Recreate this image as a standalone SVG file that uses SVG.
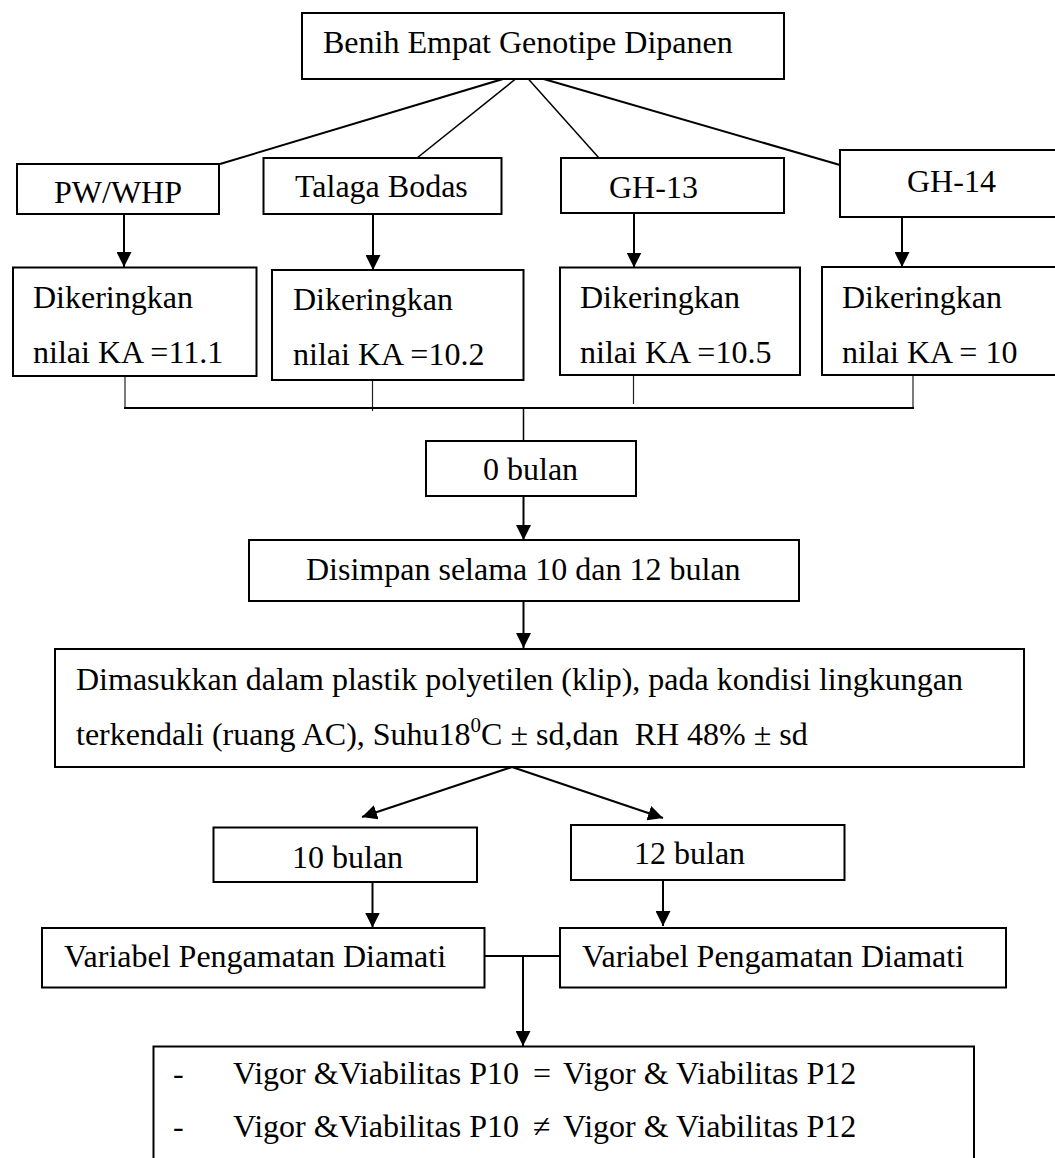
<svg xmlns="http://www.w3.org/2000/svg" width="1055" height="1158" viewBox="0 0 1055 1158">
<style>
  .box { fill: #fff; stroke: #000; stroke-width: 2; }
  .t { font-family: "Liberation Serif", "Times New Roman", serif; font-size: 32px; fill: #000; }
  .ln { fill: none; stroke: #000; stroke-width: 2; }
  .thin { fill: none; stroke: #000; stroke-width: 1.5; }
  .hair { fill: none; stroke: #222; stroke-width: 1.2; }
  .arr { fill: none; stroke: #000; stroke-width: 2; marker-end: url(#ah); }
</style>
<defs>
  <marker id="ah" markerUnits="userSpaceOnUse" markerWidth="15" markerHeight="15" refX="15" refY="7.5" orient="auto">
    <path d="M0,0 L15,7.5 L0,15 z" fill="#000"/>
  </marker>
</defs>
<rect width="1055" height="1158" fill="#fff"/>

<g id="connectors">
  <line class="ln" x1="523" y1="73" x2="220" y2="164"/>
  <line class="thin" x1="523" y1="73" x2="417" y2="158"/>
  <line class="thin" x1="523" y1="73" x2="599" y2="158"/>
  <line class="ln" x1="523" y1="73" x2="840" y2="165"/>
  <line class="arr" x1="124" y1="214" x2="124" y2="267"/>
  <line class="arr" x1="373" y1="214" x2="373" y2="270"/>
  <line class="arr" x1="634" y1="213" x2="634" y2="267.5"/>
  <line class="arr" x1="902" y1="217" x2="902" y2="267"/>
  <line class="hair" x1="125" y1="376" x2="125" y2="408"/>
  <line class="hair" x1="372.5" y1="380" x2="372.5" y2="411"/>
  <line class="hair" x1="633.5" y1="375" x2="633.5" y2="404"/>
  <line class="hair" x1="913" y1="369" x2="913" y2="408"/>
  <line class="ln" x1="124" y1="408" x2="914" y2="408"/>
  <line class="thin" x1="523.5" y1="408" x2="523.5" y2="441"/>
  <line class="arr" x1="523.5" y1="496" x2="523.5" y2="540"/>
  <line class="arr" x1="523.5" y1="601" x2="523.5" y2="648"/>
  <line class="arr" x1="512" y1="767" x2="362" y2="817"/>
  <line class="arr" x1="512" y1="767" x2="663" y2="818"/>
  <line class="arr" x1="372.5" y1="882" x2="372.5" y2="927.5"/>
  <line class="arr" x1="663" y1="880" x2="663" y2="926"/>
  <line class="ln" x1="484.5" y1="956" x2="560" y2="956"/>
  <line class="arr" x1="523" y1="956" x2="523" y2="1046"/>
</g>

<g id="n-top">
  <rect class="box" x="302" y="13" width="482" height="66"/>
  <text class="t" x="323" y="53">Benih Empat Genotipe Dipanen</text>
</g>
<g id="n-pw">
  <rect class="box" x="17" y="164" width="202" height="50"/>
  <text class="t" x="54" y="203">PW/WHP</text>
</g>
<g id="n-talaga">
  <rect class="box" x="263.5" y="158" width="238" height="56"/>
  <text class="t" x="295" y="197">Talaga Bodas</text>
</g>
<g id="n-gh13">
  <rect class="box" x="561" y="158" width="223" height="55"/>
  <text class="t" x="609" y="198">GH-13</text>
</g>
<g id="n-gh14">
  <rect class="box" x="840" y="150" width="220" height="67"/>
  <text class="t" x="907" y="192">GH-14</text>
</g>
<g id="n-d1">
  <rect class="box" x="13" y="267.5" width="243.5" height="108.5"/>
  <text class="t" x="33" y="308">Dikeringkan</text>
  <text class="t" x="33" y="363">nilai KA =11.1</text>
</g>
<g id="n-d2">
  <rect class="box" x="272" y="270" width="251.5" height="110"/>
  <text class="t" x="293" y="310">Dikeringkan</text>
  <text class="t" x="293" y="365">nilai KA =10.2</text>
</g>
<g id="n-d3">
  <rect class="box" x="560" y="267.5" width="240" height="107.5"/>
  <text class="t" x="580" y="308">Dikeringkan</text>
  <text class="t" x="580" y="363">nilai KA =10.5</text>
</g>
<g id="n-d4">
  <rect class="box" x="822" y="267" width="240" height="108"/>
  <text class="t" x="842" y="308">Dikeringkan</text>
  <text class="t" x="842" y="363">nilai KA = 10</text>
</g>
<g id="n-0bulan">
  <rect class="box" x="426" y="441" width="210" height="55"/>
  <text class="t" x="483" y="480">0 bulan</text>
</g>
<g id="n-disimpan">
  <rect class="box" x="249" y="540" width="550" height="61"/>
  <text class="t" x="306" y="580">Disimpan selama 10 dan 12 bulan</text>
</g>
<g id="n-plastik">
  <rect class="box" x="55" y="649" width="969" height="118"/>
  <text class="t" x="76" y="690">Dimasukkan dalam plastik polyetilen (klip), pada kondisi lingkungan</text>
  <text class="t" x="76" y="745" xml:space="preserve">terkendali (ruang AC), Suhu18<tspan font-size="21" dy="-13">0</tspan><tspan dy="13">C ± sd,dan  RH 48% ± sd</tspan></text>
</g>
<g id="n-10bulan">
  <rect class="box" x="213.5" y="827.5" width="263.5" height="54.5"/>
  <text class="t" x="292" y="868">10 bulan</text>
</g>
<g id="n-12bulan">
  <rect class="box" x="571" y="825" width="273.5" height="55"/>
  <text class="t" x="634" y="864">12 bulan</text>
</g>
<g id="n-var10">
  <rect class="box" x="42" y="928" width="442.5" height="59.5"/>
  <text class="t" x="64" y="967">Variabel Pengamatan Diamati</text>
</g>
<g id="n-var12">
  <rect class="box" x="560" y="928" width="446" height="59.5"/>
  <text class="t" x="582" y="967">Variabel Pengamatan Diamati</text>
</g>
<g id="n-hasil">
  <rect class="box" x="153.5" y="1046.5" width="820.5" height="130"/>
  <text class="t" x="173" y="1084">-</text>
  <text class="t" x="233" y="1084">Vigor &amp;Viabilitas P10</text>
  <text class="t" x="533" y="1084">=</text>
  <text class="t" x="563" y="1084">Vigor &amp; Viabilitas P12</text>
  <text class="t" x="173" y="1137">-</text>
  <text class="t" x="233" y="1137">Vigor &amp;Viabilitas P10</text>
  <text class="t" x="533" y="1137">≠</text>
  <text class="t" x="563" y="1137">Vigor &amp; Viabilitas P12</text>
</g>
</svg>
